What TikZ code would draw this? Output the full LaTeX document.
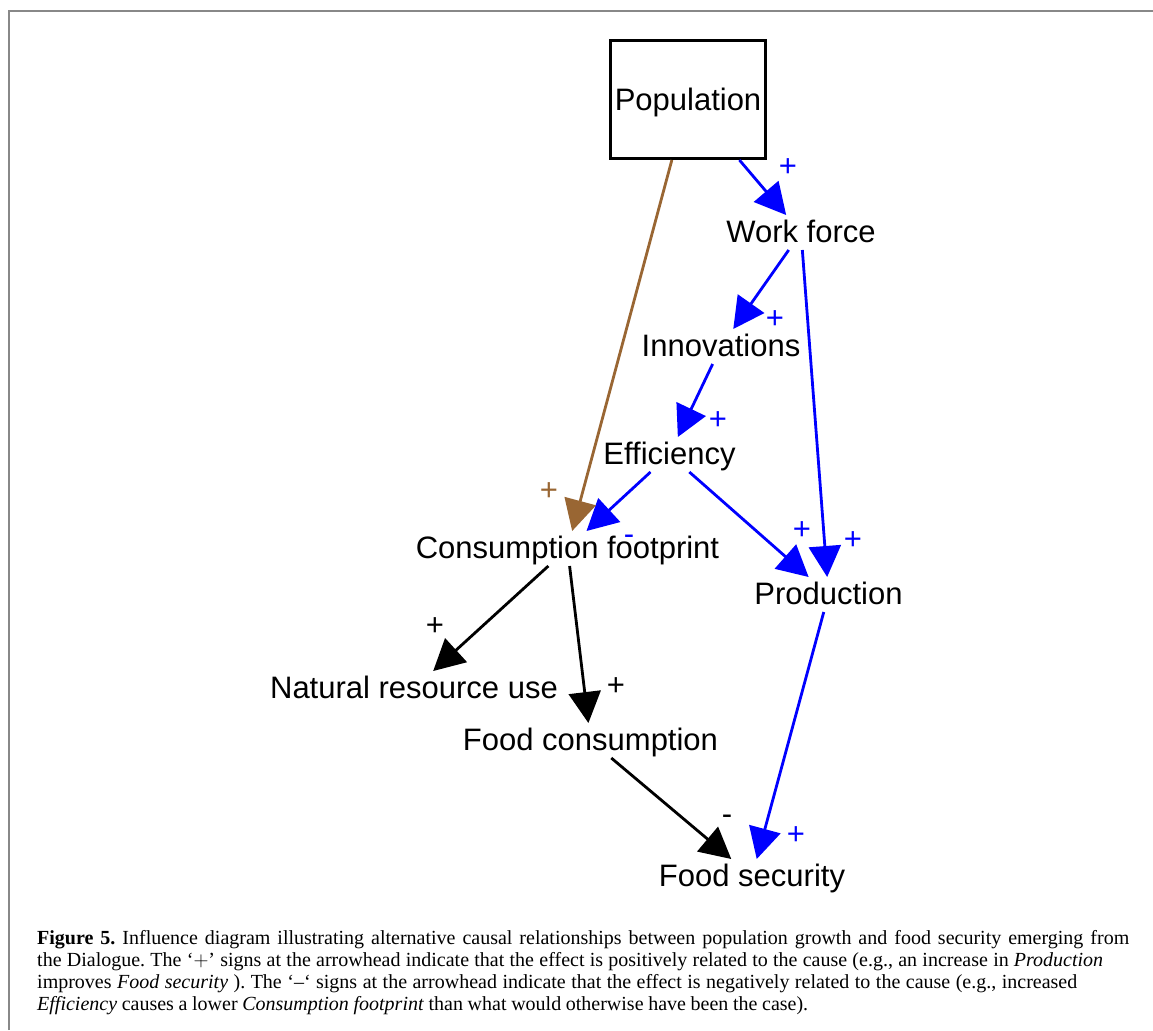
\documentclass[tikz,border=0pt]{standalone}
\usepackage{fontspec}
\setmainfont{Liberation Serif}
\newfontfamily\arialf{Liberation Sans}
\usetikzlibrary{arrows.meta}
\definecolor{arrblue}{RGB}{0,0,255}
\definecolor{arrbrown}{RGB}{153,102,51}
\definecolor{framegray}{RGB}{136,136,136}
\frenchspacing
\begin{document}
\begin{tikzpicture}[x=1pt,y=-1pt,
  var/.style={font=\arialf\fontsize{31}{37}\selectfont, inner sep=0pt, outer sep=0pt, text height=27pt, text depth=8pt},
  sign/.style={font=\arialf\fontsize{31}{37}\selectfont, inner sep=0pt},
  link/.style={line width=2.8pt, -{Triangle[length=31pt,width=32pt]}},
  capline/.style={anchor=base west, inner sep=0pt, font=\fontsize{20}{22}\selectfont\frenchspacing},
]
\useasboundingbox (0,0) rectangle (1153,1030);
\draw[framegray, line width=2pt] (9,1030) -- (9,11) -- (1153,11);

\node[var, draw, line width=3pt, outer sep=1.5pt, minimum width=155pt, minimum height=118pt, text depth=5pt] (pop) at (688,99.5) {Population};
\node[var] (wf) at (801,232.5) {Work force};
\node[var] (inn) at (721,346.5) {Innovations};
\node[var] (eff) at (669.5,454.5) {Efficiency};
\node[var] (cf) at (567.5,548.5) {Consumption footprint};
\node[var] (prod) at (828.5,594.5) {Production};
\node[var] (nru) at (414,688.5) {Natural resource use};
\node[var] (fc) at (590.5,740.5) {Food consumption};
\node[var] (fs) at (752,876.5) {Food security};

\draw[link, arrblue] (pop) -- (wf);
\draw[link, arrblue] (wf) -- (inn);
\draw[link, arrblue] (inn) -- (eff);
\draw[link, arrblue] (wf) -- (prod);
\draw[link, arrblue] (eff) -- (prod);
\draw[link, arrblue] (eff) -- (cf);
\draw[link, arrbrown] (pop) -- (cf);
\draw[link] (cf) -- (nru);
\draw[link] (cf) -- (fc);
\draw[link] (fc) -- (fs);
\draw[link, arrblue] (prod) -- (fs);

\node[sign, arrblue] (s1) at (788,168) {+};
\node[sign, arrblue] (s2) at (775,320) {+};
\node[sign, arrblue] (s3) at (718,421) {+};
\node[sign, arrblue] (s4) at (853,541) {+};
\node[sign, arrblue] (s5) at (802,531) {+};
\node[sign, arrblue] (s6) at (629,540) {-};
\node[sign, arrbrown] (s7) at (549,492) {+};
\node[sign] (s8) at (435,627) {+};
\node[sign] (s9) at (616,687) {+};
\node[sign] (s10) at (727,820) {-};
\node[sign, arrblue] (s11) at (796,836) {+};

\node[capline] (cap1) at (37,944) {\makebox[1092pt][s]{\textbf{Figure 5.} Influence diagram illustrating alternative causal relationships between population growth and food security emerging from}};
\node[capline] (cap2) at (37,966) {\makebox[1066pt][s]{the Dialogue. The ‘$+$’ signs at the arrowhead indicate that the effect is positively related to the cause (e.g., an increase in \textit{Production}}};
\node[capline] (cap3) at (37,988) {\makebox[1040pt][s]{improves \textit{Food security} ). The ‘–‘ signs at the arrowhead indicate that the effect is negatively related to the cause (e.g., increased}};
\node[capline] (cap4) at (37,1010) {\makebox[771pt][s]{\textit{Efficiency} causes a lower \textit{Consumption footprint} than what would otherwise have been the case).}};
\end{tikzpicture}
\end{document}
